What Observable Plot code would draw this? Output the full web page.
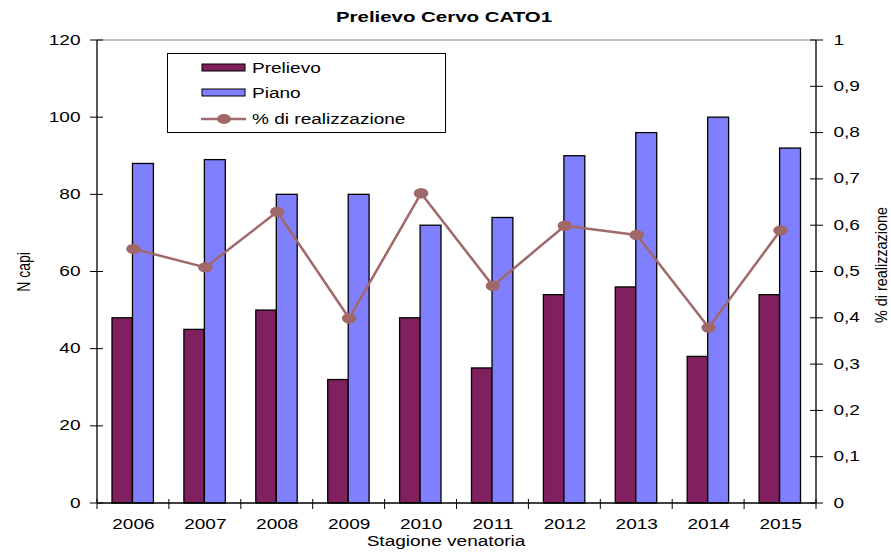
<!DOCTYPE html>
<html>
<head>
<meta charset="utf-8">
<script src="https://cdn.jsdelivr.net/npm/d3@7"></script>
<script src="https://cdn.jsdelivr.net/npm/@observablehq/plot@0.6"></script>
<style>
  html, body { margin: 0; padding: 0; background: #fff; }
  #chart { width: 891px; height: 554px; }
</style>
</head>
<body>
<div id="chart"></div>
<script>
const years = ["2006","2007","2008","2009","2010","2011","2012","2013","2014","2015"];
const prelievo = [48, 45, 50, 32, 48, 35, 54, 56, 38, 54];
const piano = [88, 89, 80, 80, 72, 74, 90, 96, 100, 92];
const realizzazione = [0.55, 0.51, 0.63, 0.40, 0.67, 0.47, 0.60, 0.58, 0.38, 0.59];
const leftTicks = [0, 20, 40, 60, 80, 100, 120];
const rightTicks = [0, 0.1, 0.2, 0.3, 0.4, 0.5, 0.6, 0.7, 0.8, 0.9, 1];
const rightTickLabels = ["0","0,1","0,2","0,3","0,4","0,5","0,6","0,7","0,8","0,9","1"];
const seriesNames = ["Prelievo", "Piano", "% di realizzazione"];
const titleText = "Prelievo Cervo CATO1";
const xLabel = "Stagione venatoria";
const yLabel = "N capi";
const y2Label = "% di realizzazione";

const colPrelievo = "#80205f";
const colPiano = "#8080ff";
const colLine = "#a06868";
const FONT = "Liberation Sans, Arial, sans-serif";
const SX = 1.36;

const rows = years.map((y, i) => ({year: y, prelievo: prelievo[i], piano: piano[i], ratio: realizzazione[i]}));
const yMax = 120;

const chart = Plot.plot({
  width: 891,
  height: 554,
  marginLeft: 97,
  marginRight: 75,
  marginTop: 40,
  marginBottom: 51,
  style: {fontFamily: FONT, fontSize: "14px", background: "white", color: "#000"},
  x: {type: "band", domain: years, padding: 0, round: false, axis: null},
  y: {domain: [0, yMax], axis: null},
  marks: [
    Plot.barY(rows, {x: "year", y: "prelievo", fill: colPrelievo, stroke: "#000", strokeWidth: 1.3, insetLeft: 15, insetRight: 36.5}),
    Plot.barY(rows, {x: "year", y: "piano", fill: colPiano, stroke: "#000", strokeWidth: 1.3, insetLeft: 35.5, insetRight: 15.5}),
    Plot.line(rows, {x: "year", y: d => d.ratio * yMax, stroke: colLine, strokeWidth: 2.5}),
    Plot.dot(rows, {x: "year", y: d => d.ratio * yMax, fill: colLine, r: 5.2}),
    Plot.axisY(leftTicks, {anchor: "left", tickSize: 0, tickPadding: 17, fontSize: 14, label: null}),
    Plot.axisY(rightTicks.map(v => v * yMax), {anchor: "right", tickSize: 0, tickPadding: 17, fontSize: 14, label: null, tickFormat: (d, i) => rightTickLabels[i]}),
    Plot.axisX({tickSize: 0, tickPadding: 16, fontSize: 14, label: null})
  ]
});
document.getElementById("chart").appendChild(chart);

const xs = chart.scale("x");
const ys = chart.scale("y");
const svg = d3.select(chart);
const xL = xs.range[0], xR = xs.range[1];
const yB = ys.apply(0), yT = ys.apply(yMax);

function stretch(el, sx, dyExtra) {
  const t = el.getAttribute("transform") || "";
  const x = +el.getAttribute("x") || 0;
  const y = +el.getAttribute("y") || 0;
  el.removeAttribute("x"); el.removeAttribute("y");
  el.setAttribute("transform", `${t} translate(${x},${y + dyExtra}) scale(${sx},1)`);
  el.setAttribute("font-size", 14);
  el.style.fontSize = "14px";
}
// stretch Plot's own tick labels horizontally like the reference's rendering
svg.selectAll("text").each(function() {
  const g = this.closest("[aria-label]");
  const lab = g ? g.getAttribute("aria-label") : "";
  const dy = lab.startsWith("x-axis") ? 9 : lab.startsWith("y-axis") ? 4 : 0;
  stretch(this, SX, dy);
});
svg.selectAll("circle").each(function() {
  const cx = +this.getAttribute("cx"), cy = +this.getAttribute("cy");
  this.setAttribute("transform", `translate(${cx},${cy}) scale(1.4,1) translate(${-cx},${-cy})`);
});

const deco = svg.append("g");
deco.append("line").attr("x1", xL).attr("x2", xR).attr("y1", yT).attr("y2", yT).attr("stroke", "#888");
deco.append("line").attr("x1", xL).attr("x2", xL).attr("y1", yT).attr("y2", yB).attr("stroke", "#000").attr("stroke-width", 1.3);
deco.append("line").attr("x1", xR).attr("x2", xR).attr("y1", yT).attr("y2", yB).attr("stroke", "#000").attr("stroke-width", 1.3);
deco.append("line").attr("x1", xL).attr("x2", xR).attr("y1", yB).attr("y2", yB).attr("stroke", "#000").attr("stroke-width", 1.3);
deco.selectAll(null).data(years.map(y => xs.apply(y)).concat([xR])).enter().append("line")
  .attr("x1", d => d).attr("x2", d => d).attr("y1", yB - 4).attr("y2", yB + 6).attr("stroke", "#000");
deco.selectAll(null).data(leftTicks).enter().append("line")
  .attr("x1", xL - 7).attr("x2", xL + 6).attr("y1", d => ys.apply(d)).attr("y2", d => ys.apply(d)).attr("stroke", "#000");
deco.selectAll(null).data(rightTicks).enter().append("line")
  .attr("x1", xR - 6).attr("x2", xR + 7).attr("y1", d => ys.apply(d * yMax)).attr("y2", d => ys.apply(d * yMax)).attr("stroke", "#000");

function txt(x, y, s, opts = {}) {
  return deco.append("text").attr("font-family", FONT).attr("font-size", opts.size || 14)
    .attr("font-weight", opts.bold ? "bold" : null).attr("text-anchor", opts.anchor || "middle").attr("fill", "#000")
    .attr("transform", `translate(${x},${y}) scale(${opts.sx || SX},1)`).text(s);
}
txt(444, 22, titleText, {bold: true, sx: 1.46});
txt(446, 546, xLabel);
deco.append("text").attr("font-family", FONT).attr("font-size", 14).attr("text-anchor", "middle")
  .attr("transform", `translate(30,272) scale(1.3,1) rotate(-90)`).text(yLabel);
deco.append("text").attr("font-family", FONT).attr("font-size", 13).attr("text-anchor", "middle")
  .attr("textLength", 116).attr("lengthAdjust", "spacingAndGlyphs")
  .attr("transform", `translate(887,265) scale(1.3,1) rotate(-90)`).text(y2Label);

const lg = deco.append("g");
lg.append("rect").attr("x", 167.5).attr("y", 53.5).attr("width", 278).attr("height", 79).attr("fill", "#fff").attr("stroke", "#000");
const rowsY = [67.5, 92.5, 119];
lg.append("rect").attr("x", 202).attr("y", rowsY[0] - 3.5).attr("width", 43).attr("height", 7).attr("fill", colPrelievo).attr("stroke", "#000");
lg.append("rect").attr("x", 202).attr("y", rowsY[1] - 3.5).attr("width", 43).attr("height", 7).attr("fill", colPiano).attr("stroke", "#000");
lg.append("line").attr("x1", 201).attr("x2", 246).attr("y1", rowsY[2]).attr("y2", rowsY[2]).attr("stroke", colLine).attr("stroke-width", 2.5);
lg.append("ellipse").attr("cx", 224).attr("cy", rowsY[2]).attr("rx", 7).attr("ry", 5).attr("fill", colLine);
seriesNames.forEach((n, i) => txt(252, rowsY[i] + 5, n, {anchor: "start"}));
</script>
</body>
</html>
